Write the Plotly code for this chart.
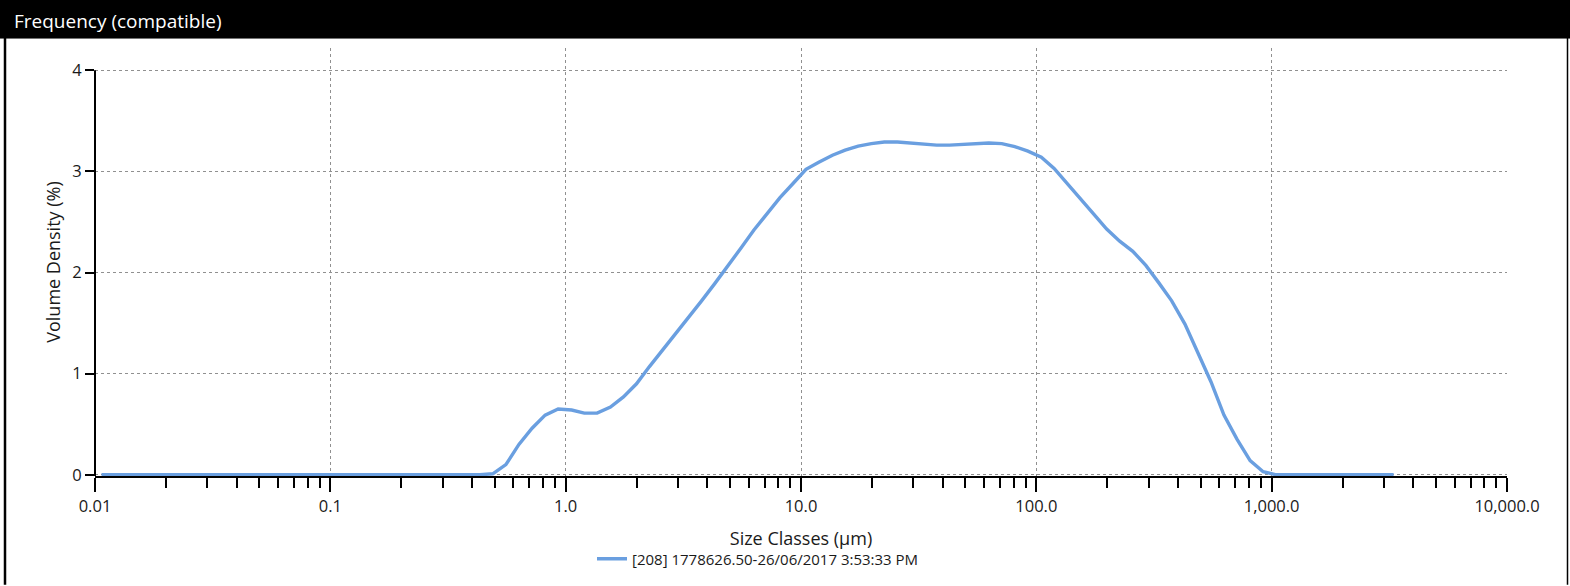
import plotly.graph_objects as go

# Size classes (class centres, µm)
size_um = [0.01066, 0.0121, 0.0138, 0.0157, 0.0178, 0.0202, 0.0229, 0.0260, 0.0296, 0.0336,
           0.0382, 0.0434, 0.0493, 0.0560, 0.0637, 0.0723, 0.0821, 0.0933, 0.106, 0.120,
           0.137, 0.155, 0.177, 0.201, 0.228, 0.259, 0.294, 0.335, 0.380, 0.432,
           0.490, 0.557, 0.633, 0.720, 0.818, 0.929, 1.06, 1.20, 1.36, 1.55,
           1.76, 2.00, 2.27, 2.58, 2.93, 3.33, 3.78, 4.30, 4.88, 5.55,
           6.31, 7.17, 8.14, 9.25, 10.5, 11.9, 13.6, 15.4, 17.5, 19.9,
           22.6, 25.7, 29.2, 33.2, 37.7, 42.8, 48.6, 55.3, 62.8, 71.3,
           81.0, 92.1, 105, 119, 135, 154, 175, 199, 226, 257,
           292, 331, 376, 428, 486, 552, 627, 713, 810, 920,
           1045, 1188, 1349, 1533, 1742, 1979, 2249, 2555, 2903, 3298]

# Volume density (%)
volume_density = [0, 0, 0, 0, 0, 0, 0, 0, 0, 0,
                  0, 0, 0, 0, 0, 0, 0, 0, 0, 0,
                  0, 0, 0, 0, 0, 0, 0, 0, 0, 0,
                  0.01, 0.10, 0.30, 0.46, 0.59, 0.65, 0.64, 0.61, 0.61, 0.67,
                  0.77, 0.90, 1.07, 1.23, 1.40, 1.56, 1.72, 1.89, 2.06, 2.24,
                  2.42, 2.58, 2.74, 2.88, 3.02, 3.09, 3.16, 3.21, 3.25, 3.275,
                  3.29, 3.29, 3.28, 3.265, 3.26, 3.26, 3.265, 3.275, 3.28, 3.275,
                  3.245, 3.20, 3.14, 3.03, 2.88, 2.72, 2.58, 2.43, 2.31, 2.21,
                  2.07, 1.90, 1.72, 1.49, 1.21, 0.92, 0.59, 0.35, 0.14, 0.03,
                  0, 0, 0, 0, 0, 0, 0, 0, 0, 0]

x_tick_vals = [0.01, 0.1, 1, 10, 100, 1000, 10000]
x_tick_text = ["0.01", "0.1", "1.0", "10.0", "100.0", "1,000.0", "10,000.0"]
x_minor_vals = [m * d for d in [0.01, 0.1, 1, 10, 100, 1000] for m in range(2, 10)]
y_tick_vals = [0, 1, 2, 3, 4]

series_name = "[208] 1778626.50-26/06/2017 3:53:33 PM"
chart_title = "Frequency (compatible)"

FONT = "Open Sans"
W, H = 1570, 586
L, R, T, B = 95, 63, 48, 109
pw = W - L - R
ph = H - T - B


def px_x(p):
    return (p - L) / pw


def px_y(p):
    return (H - B - p) / ph


fig = go.Figure()
fig.add_trace(go.Scatter(
    x=size_um, y=volume_density, mode="lines", name=series_name,
    line=dict(color="#6A9FE0", width=3.4),
    showlegend=True,
))

grid = dict(showgrid=True, gridcolor="#909090", griddash="dot", gridwidth=1)

fig.update_layout(
    width=W, height=H,
    margin=dict(l=L, r=R, t=T, b=B),
    paper_bgcolor="white", plot_bgcolor="white",
    font=dict(family=FONT, size=16, color="#1a1a1a"),
    xaxis=dict(
        type="log", range=[-2, 4],
        tickvals=x_tick_vals, ticktext=x_tick_text,
        ticks="outside", ticklen=14, tickwidth=2, tickcolor="black",
        showline=True, linecolor="black", linewidth=2,
        minor=dict(tickvals=x_minor_vals, ticks="outside", ticklen=10,
                   tickwidth=2, tickcolor="black", showgrid=False),
        tickfont=dict(size=16.5),
        title=dict(text="Size Classes (µm)", font=dict(size=18), standoff=17),
        zeroline=False, layer="below traces",
        **grid,
    ),
    yaxis=dict(
        range=[-0.012, 4.22],
        tickvals=y_tick_vals,
        ticks="outside", ticklen=9, tickwidth=2, tickcolor="black",
        showline=False, zeroline=False,
        tickfont=dict(size=16.5),
        title=dict(text="Volume Density (%)", font=dict(size=18), standoff=6),
        layer="below traces",
        **grid,
    ),
    legend=dict(
        orientation="h", x=px_x(592), xanchor="left",
        y=px_y(559), yanchor="middle",
        font=dict(size=15), bgcolor="rgba(0,0,0,0)",
        itemwidth=30,
    ),
    showlegend=True,
)

# y axis line from 0 to 4
fig.add_shape(type="line", xref="paper", yref="y", x0=0, x1=0, y0=-0.012, y1=4,
              line=dict(color="black", width=2), layer="above")

# frame: title bar, left and right borders
fig.add_shape(type="rect", xref="paper", yref="paper",
              x0=px_x(0), x1=px_x(W), y0=px_y(38), y1=px_y(0),
              fillcolor="black", line=dict(width=0), layer="above")
fig.add_shape(type="line", xref="paper", yref="paper",
              x0=px_x(0), x1=px_x(W), y0=px_y(38.5), y1=px_y(38.5),
              line=dict(color="#707070", width=1), layer="above")
fig.add_shape(type="line", xref="paper", yref="paper",
              x0=px_x(5), x1=px_x(5), y0=px_y(38), y1=px_y(H),
              line=dict(color="black", width=2.5), layer="above")
fig.add_shape(type="line", xref="paper", yref="paper",
              x0=px_x(1567.5), x1=px_x(1567.5), y0=px_y(38), y1=px_y(H),
              line=dict(color="black", width=1.5), layer="above")

fig.add_annotation(text=chart_title, xref="paper", yref="paper",
                   x=px_x(12), y=px_y(21), xanchor="left", yanchor="middle",
                   showarrow=False, font=dict(color="white", size=19, family=FONT))

fig.write_html("out.html",
               config={"displayModeBar": False},
               post_script="document.body.style.margin='0';document.body.style.overflow='hidden';")
